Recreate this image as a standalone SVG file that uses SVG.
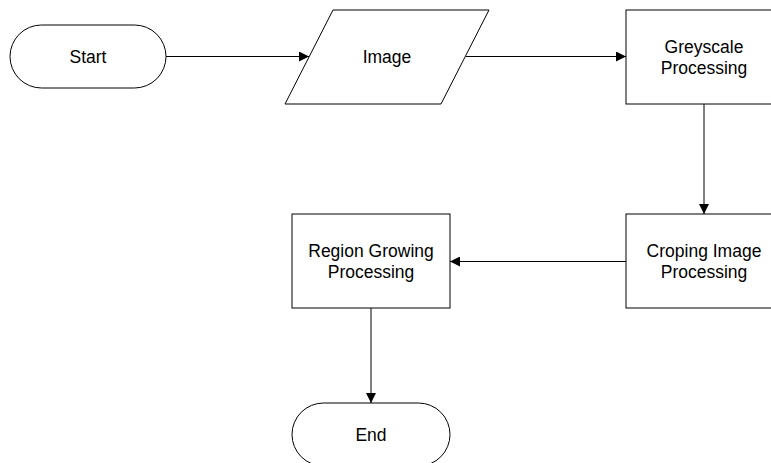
<svg xmlns="http://www.w3.org/2000/svg" width="771" height="463" viewBox="0 0 771 463">
<style>
.s{fill:#fff;stroke:#000;stroke-width:1}
.t{font-family:"Liberation Sans",Arial,sans-serif;font-size:17.5px;fill:#000;text-anchor:middle}
.c{fill:none;stroke:#000;stroke-width:1}
</style>
<defs>
<marker id="a" markerWidth="10" markerHeight="10" refX="10" refY="5" orient="auto" markerUnits="userSpaceOnUse">
<path d="M0,0 L10,5 L0,10 Z" fill="#000"/>
</marker>
</defs>
<rect width="771" height="463" fill="#fff"/>
<g id="connectors">
<line class="c" x1="166" y1="56.5" x2="309" y2="56.5" marker-end="url(#a)"/>
<line class="c" x1="466" y1="56.5" x2="626" y2="56.5" marker-end="url(#a)"/>
<line class="c" x1="704" y1="104" x2="704" y2="214" marker-end="url(#a)"/>
<line class="c" x1="626" y1="261.5" x2="450" y2="261.5" marker-end="url(#a)"/>
<line class="c" x1="371" y1="308" x2="371" y2="403" marker-end="url(#a)"/>
</g>
<g id="start">
<rect class="s" x="10" y="25" width="156" height="63" rx="31.5" ry="31.5"/>
<text class="t" x="88" y="62.5">Start</text>
</g>
<g id="image">
<polygon class="s" points="333,10 489,10 441,104 285,104"/>
<text class="t" x="387" y="62.5">Image</text>
</g>
<g id="greyscale">
<rect class="s" x="626" y="10" width="156" height="94"/>
<text class="t" x="704" y="52.5">Greyscale</text>
<text class="t" x="704" y="73.5">Processing</text>
</g>
<g id="croping">
<rect class="s" x="626" y="214" width="156" height="94"/>
<text class="t" x="704" y="256.5">Croping Image</text>
<text class="t" x="704" y="277.5">Processing</text>
</g>
<g id="region">
<rect class="s" x="292" y="214" width="158" height="94"/>
<text class="t" x="371" y="256.5">Region Growing</text>
<text class="t" x="371" y="277.5">Processing</text>
</g>
<g id="end">
<rect class="s" x="292" y="403" width="158" height="63" rx="31.5" ry="31.5"/>
<text class="t" x="371" y="440.5">End</text>
</g>
</svg>
